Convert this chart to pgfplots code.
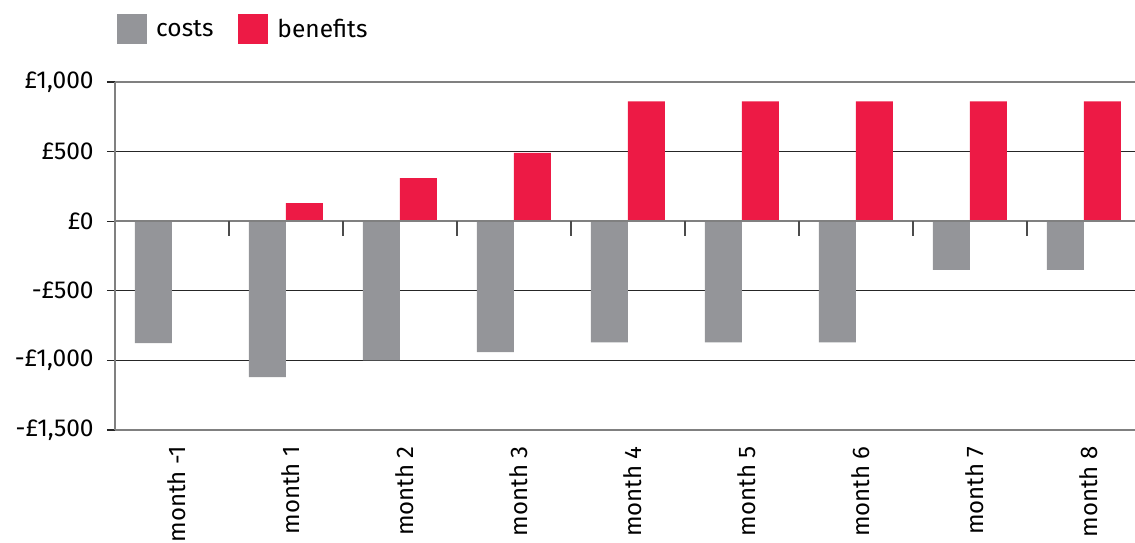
\documentclass[border=0pt]{standalone}
\usepackage{fontspec}
\setmainfont{Fira Sans}
\usepackage{pgfplots}
\pgfplotsset{compat=1.18}
\definecolor{costgray}{RGB}{148,149,153}
\definecolor{benred}{RGB}{237,26,69}
\definecolor{axisgray}{RGB}{128,128,128}
\begin{document}
\fontsize{24.5}{28}\selectfont
\begin{tikzpicture}
\begin{axis}[
  at={(0pt,0pt)}, anchor=south west,
  scale only axis, width=1020pt, height=348pt,
  xmin=-0.5, xmax=8.447, ymin=-1500, ymax=1000,
  ybar=0pt, bar width=37pt,
  clip=false,
  axis x line*=bottom, axis y line*=left,
  axis line style={axisgray, line width=1.5pt},
  xtick={0,1,2,3,4,5,6,7,8},
  xticklabels={month -1, month 1, month 2, month 3, month 4, month 5, month 6, month 7, month 8},
  x tick style={draw=none},
  xticklabel style={rotate=90, anchor=east, font=\fontsize{24}{28}\selectfont, yshift=-5pt},
  ytick={-1500,-1000,-500,0,500,1000},
  yticklabels={{-£1,500}, {-£1,000}, {-£500}, {£0}, {£500}, {£1,000}},
  yticklabel style={font=\fontsize{24.5}{28}\selectfont, xshift=-5pt},
  ytick pos=left, tick align=outside, major tick length=8pt,
  y tick style={black!85, line width=1.2pt},
  ymajorgrids, grid style={black!85, line width=1.2pt},
  /pgf/number format/assume math mode=true,
  legend style={draw=none, fill=none, at={(0.002,1.195)}, anchor=north west,
    legend columns=2, font=\fontsize{24.5}{28}\selectfont, inner sep=0pt,
    /tikz/every odd column/.append style={column sep=7pt},
    /tikz/every even column/.append style={column sep=23pt}},
  legend cell align=left,
]
\addplot[fill=costgray, draw=none, legend image code/.code={\fill[costgray] (0pt,-14pt) rectangle (30pt,16pt);}]
  coordinates {(0,-875) (1,-1120) (2,-1000) (3,-940) (4,-870) (5,-870) (6,-870) (7,-350) (8,-350)};
\addlegendentry{costs}
\addplot[fill=benred, draw=none, legend image code/.code={\fill[benred] (0pt,-14pt) rectangle (30pt,16pt);}]
  coordinates {(0,0) (1,130) (2,310) (3,490) (4,860) (5,860) (6,860) (7,860) (8,860)};
\addlegendentry{benefits}
\draw[axisgray, line width=2pt] (axis cs:-0.5,0) -- (axis cs:8.447,0);
\draw[axisgray, line width=1.5pt] (axis cs:-0.5,1000) -- (axis cs:8.447,1000);
\draw[axisgray, line width=1.5pt] (axis cs:-0.5,-1500) -- (axis cs:8.447,-1500);
\pgfplotsinvokeforeach{0.5,1.5,2.5,3.5,4.5,5.5,6.5,7.5}{
  \draw[black!70, line width=1.2pt] (axis cs:#1,0) -- ++(0pt,-15pt);
}
\end{axis}
\pgfresetboundingbox
\useasboundingbox (-115pt,-112pt) rectangle (1020pt,430pt);
\end{tikzpicture}
\end{document}
